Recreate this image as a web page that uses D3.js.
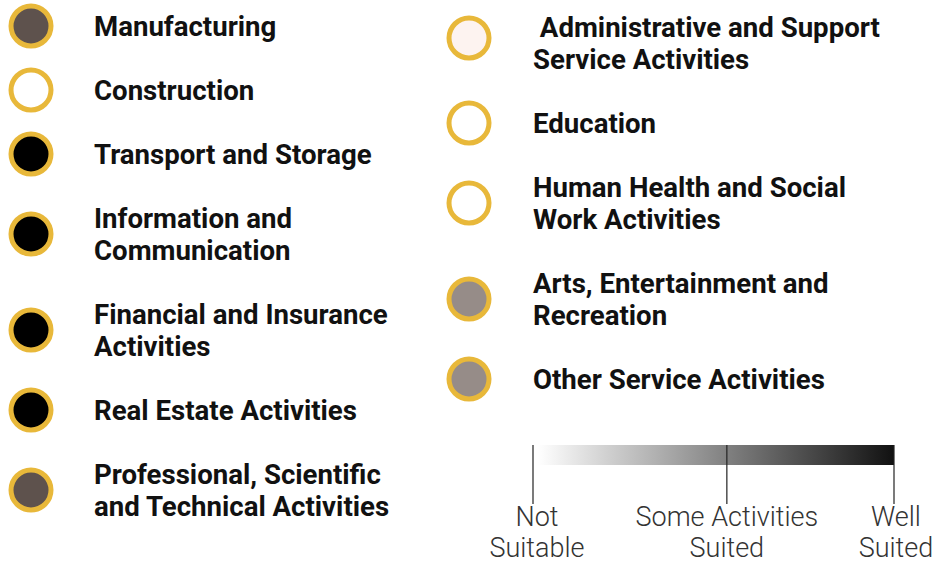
<!DOCTYPE html>
<html><head><meta charset="utf-8">
<script src="https://cdn.jsdelivr.net/npm/d3@7"></script>
<style>body{margin:0;background:#fff}svg{display:block}</style>
</head><body><svg id="c" width="932" height="564"></svg>
<script>
// Data
const leftCategories = [
  ["Manufacturing"],
  ["Construction"],
  ["Transport and Storage"],
  ["Information and", "Communication"],
  ["Financial and Insurance", "Activities"],
  ["Real Estate Activities"],
  ["Professional, Scientific", "and Technical Activities"]
];
const leftLevels = [3, 0, 4, 4, 4, 4, 3];
const rightCategories = [
  [" Administrative and Support", "Service Activities"],
  ["Education"],
  ["Human Health and Social", "Work Activities"],
  ["Arts, Entertainment and", "Recreation"],
  ["Other Service Activities"]
];
const rightLevels = [1, 0, 0, 2, 2];
const levelColors = ["#ffffff", "#fdf3f0", "#968c88", "#5e524d", "#000000"];
const scaleStops = [0, 0.537, 1];
const scaleLabels = [["Not", "Suitable"], ["Some Activities", "Suited"], ["Well", "Suited"]];

const svg = d3.select("#c");
const color = d3.scaleOrdinal().domain([0,1,2,3,4]).range(levelColors);
const lineH = 32, gap = 32;

function layout(cats, levels, startTop) {
  let top = startTop;
  return cats.map((lines, i) => {
    const h = lines.length * lineH + gap;
    const d = {lines, level: levels[i], cy: top + h / 2};
    top += h;
    return d;
  });
}

function drawColumn(items, cx, tx, firstShift) {
  const g = svg.append("g");
  const it = g.selectAll("g").data(items).join("g");
  it.append("circle")
    .attr("cx", cx).attr("cy", (d, i) => d.cy - (i === 0 ? firstShift : 0)).attr("r", 20)
    .attr("fill", d => color(d.level))
    .attr("stroke", "#e8b83a").attr("stroke-width", 5);
  it.each(function(d) {
    const n = d.lines.length;
    d3.select(this).selectAll("text").data(d.lines).join("text")
      .attr("x", tx)
      .attr("y", (l, j) => d.cy - (n - 1) * lineH / 2 + j * lineH + 9.5)
      .attr("font-family", "Roboto, 'Noto Sans', sans-serif")
      .attr("font-weight", 700)
      .attr("font-size", 27.6)
      .attr("fill", "#111")
      .attr("xml:space", "preserve")
      .style("white-space", "pre")
      .text(l => l);
  });
}

drawColumn(layout(leftCategories, leftLevels, -6), 31, 94, 0);
drawColumn(layout(rightCategories, rightLevels, -5), 469, 533, 5);

// Gradient scale legend
const x = d3.scaleLinear().domain([0, 1]).range([533, 894]);
const defs = svg.append("defs");
const grad = defs.append("linearGradient").attr("id", "gr");
const gcol = d3.scaleLinear().domain([0, 1]).range(["#ffffff", "#111111"]);
d3.range(0, 1.01, 0.1).forEach(t => grad.append("stop").attr("offset", t).attr("stop-color", gcol(t)));
svg.append("rect").attr("x", x(0) + 5).attr("y", 445).attr("width", x(1) - x(0) - 5).attr("height", 20).attr("fill", "url(#gr)");
const lg = svg.append("g").selectAll("g").data(scaleStops).join("g");
lg.append("line").attr("x1", d => x(d)).attr("x2", d => x(d)).attr("y1", 445).attr("y2", 504)
  .attr("stroke", "#222").attr("stroke-width", 1.2);
lg.each(function(d, i) {
  d3.select(this).selectAll("text").data(scaleLabels[i]).join("text")
    .attr("x", x(d) + (i === 0 ? 4 : i === 2 ? 2 : 0))
    .attr("y", (l, j) => 526 + j * 31)
    .attr("text-anchor", "middle")
    .attr("font-family", "Roboto, sans-serif")
    .attr("font-weight", 300)
    .attr("font-size", 27)
    .attr("fill", "#333")
    .text(l => l);
});
</script></body></html>
